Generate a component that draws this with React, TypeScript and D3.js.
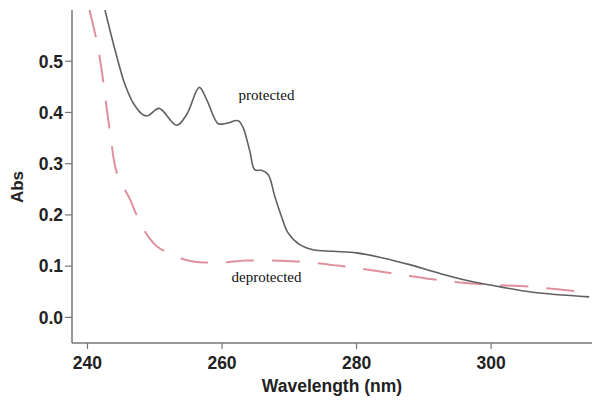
import React, { useMemo } from "react";
import * as d3 from "d3";

const protectedNm = [242.6, 244.36, 245.59, 246.82, 248.31, 249.05, 250.64, 253.26, 254.75, 256.62, 257.72, 259.44, 260.68, 262.4, 263.15, 264.14, 264.88, 265.88, 266.85, 267.85, 268.84, 269.82, 271.56, 273.53, 276.5, 279.97, 283.92, 287.88, 292.33, 296.78, 301.23, 306.17, 314.58];
const protectedAbs = [0.6, 0.509, 0.454, 0.418, 0.395, 0.394, 0.408, 0.375, 0.396, 0.449, 0.425, 0.378, 0.379, 0.384, 0.37, 0.324, 0.288, 0.287, 0.279, 0.236, 0.197, 0.165, 0.142, 0.132, 0.129, 0.126, 0.116, 0.103, 0.086, 0.071, 0.06, 0.049, 0.04];

const deprotectedNm = [240.3, 241.63, 243.37, 244.36, 246.34, 248.07, 250.3, 253.75, 255.73, 259.69, 263.65, 269.58, 272.55, 276.5, 277.98, 286.39, 293.32, 299.26, 305.68, 314.58];
const deprotectedAbs = [0.6, 0.522, 0.36, 0.282, 0.23, 0.178, 0.139, 0.116, 0.109, 0.107, 0.111, 0.11, 0.108, 0.102, 0.1, 0.084, 0.071, 0.064, 0.06, 0.048];

const xTicks = [240, 260, 280, 300];
const yTicks = [0.0, 0.1, 0.2, 0.3, 0.4, 0.5];

export default function App() {
  const W = 601, H = 400;
  const left = 72, right = 592, top = 10, bottom = 343;
  const x = d3.scaleLinear().domain([237.7, 315]).range([left, right]);
  const y = d3.scaleLinear().domain([-0.05, 0.6]).range([bottom, top]);

  const line = d3
    .line<[number, number]>()
    .x((d) => x(d[0]))
    .y((d) => y(d[1]))
    .curve(d3.curveCatmullRom.alpha(0.5));

  const pPath = useMemo(() => line(protectedNm.map((n, i) => [n, protectedAbs[i]] as [number, number])) || "", []);
  const dPath = useMemo(() => line(deprotectedNm.map((n, i) => [n, deprotectedAbs[i]] as [number, number])) || "", []);

  const axisColor = "#777";
  const labelFont = "'Liberation Sans', Arial, sans-serif";

  return (
    <svg width={W} height={H} style={{ position: "absolute", left: 0, top: 0, background: "#fff" }}>
      <defs>
        <clipPath id="plot">
          <rect x={left} y={top} width={right - left} height={bottom - top} />
        </clipPath>
      </defs>
      <rect x={0} y={0} width={W} height={H} fill="#fff" />
      <g clipPath="url(#plot)">
        <path d={dPath} fill="none" stroke="#df909b" strokeWidth={2} strokeDasharray="28,18" />
        <path d={pPath} fill="none" stroke="#606060" strokeWidth={1.6} />
      </g>
      <line x1={left} y1={top} x2={left} y2={bottom} stroke={axisColor} strokeWidth={1.5} />
      <line x1={left} y1={bottom} x2={right} y2={bottom} stroke={axisColor} strokeWidth={1.5} />
      {yTicks.map((t) => (
        <g key={"y" + t}>
          <line x1={left - 7} x2={left} y1={y(t)} y2={y(t)} stroke={axisColor} strokeWidth={1.2} />
          <text x={left - 9} y={y(t)} dy="0.36em" textAnchor="end" fontFamily={labelFont} fontWeight="bold" fontSize={17.5} fill="#222">
            {d3.format(".1f")(t)}
          </text>
        </g>
      ))}
      {xTicks.map((t) => (
        <g key={"x" + t}>
          <line x1={x(t)} x2={x(t)} y1={bottom} y2={bottom + 6} stroke={axisColor} strokeWidth={1.2} />
          <text x={x(t)} y={369} textAnchor="middle" fontFamily={labelFont} fontWeight="bold" fontSize={17.5} fill="#222">
            {t}
          </text>
        </g>
      ))}
      <text x={(left + right) / 2} y={392} textAnchor="middle" fontFamily={labelFont} fontWeight="bold" fontSize={17.5} fill="#222">
        Wavelength (nm)
      </text>
      <text transform="translate(23,187) rotate(-90)" textAnchor="middle" fontFamily={labelFont} fontWeight="bold" fontSize={17} fill="#222">
        Abs
      </text>
      <text x={266.5} y={100} textAnchor="middle" fontFamily="'Liberation Serif', 'Times New Roman', serif" fontSize={15} fill="#111">
        protected
      </text>
      <text x={266.5} y={282} textAnchor="middle" fontFamily="'Liberation Serif', 'Times New Roman', serif" fontSize={15} fill="#111">
        deprotected
      </text>
    </svg>
  );
}
